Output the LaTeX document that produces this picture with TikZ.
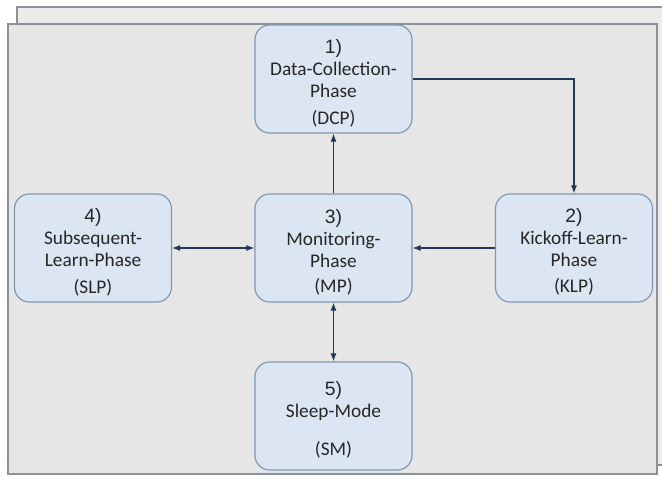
\documentclass[tikz,border=0pt]{standalone}
\usepackage{fontspec}
\setmainfont{Carlito}
\newfontfamily\numfont{Liberation Sans}
\usepackage{tikz}
\usetikzlibrary{arrows.meta}
\definecolor{PhPanel}{HTML}{E6E6E6}
\definecolor{PhPanelBack}{HTML}{EBEBEB}
\definecolor{PhFrame}{HTML}{8A9299}
\definecolor{PhFill}{HTML}{DCE6F2}
\definecolor{PhBorder}{HTML}{7F97B6}
\definecolor{PhArrow}{HTML}{22385A}
\definecolor{PhText}{HTML}{262626}
\newcommand\phnum[1]{\rule{0pt}{17pt}{\numfont #1)}}
\tikzset{
  phase/.style={draw=PhBorder,fill=PhFill,line width=.9pt,rounded corners=11pt,
    minimum width=117.75pt,minimum height=81pt,align=center,text=PhText,
    font=\fontsize{14.5pt}{16.5pt}\selectfont,inner sep=0pt},
  link/.style={draw=PhArrow,line width=.8pt,-{Latex[length=6pt,width=4.5pt]}},
  dlink/.style={draw=PhArrow,line width=.8pt,{Latex[length=6pt,width=4.5pt]}-{Latex[length=6pt,width=4.5pt]}}
}

\begin{document}
\begin{tikzpicture}[x=0.75pt,y=-0.75pt]
\path[use as bounding box] (0,0) rectangle (662,478);
% panels
\filldraw[fill=PhPanelBack,draw=PhFrame,line width=.8pt] (17,7) rectangle (663,465);
\filldraw[fill=PhPanel,draw=PhFrame,line width=.8pt] (8,24) rectangle (657,474);
% phases
\node[phase] (dcp) at (333.5,79) {\phnum{1}\\Data-Collection-\\Phase\\[4pt](DCP)};
\node[phase] (klp) at (574,248) {\phnum{2}\\Kickoff-Learn-\\Phase\\[3pt](KLP)};
\node[phase] (mp) at (333.5,248) {\phnum{3}\\Monitoring-\\Phase\\[2pt](MP)};
\node[phase] (slp) at (93,248) {\phnum{4}\\Subsequent-\\Learn-Phase\\[4pt](SLP)};
\node[phase] (sm) at (333.5,416) {\phnum{5}\\Sleep-Mode\\[12pt](SM)};
% connectors
\draw[link] (mp.north) -- (dcp.south);
\draw[link] (dcp.east) -| (klp.north);
\draw[link] (klp.west) -- (mp.east);
\draw[dlink] (slp.east) -- (mp.west);
\draw[dlink] (mp.south) -- (sm.north);
\end{tikzpicture}
\end{document}
